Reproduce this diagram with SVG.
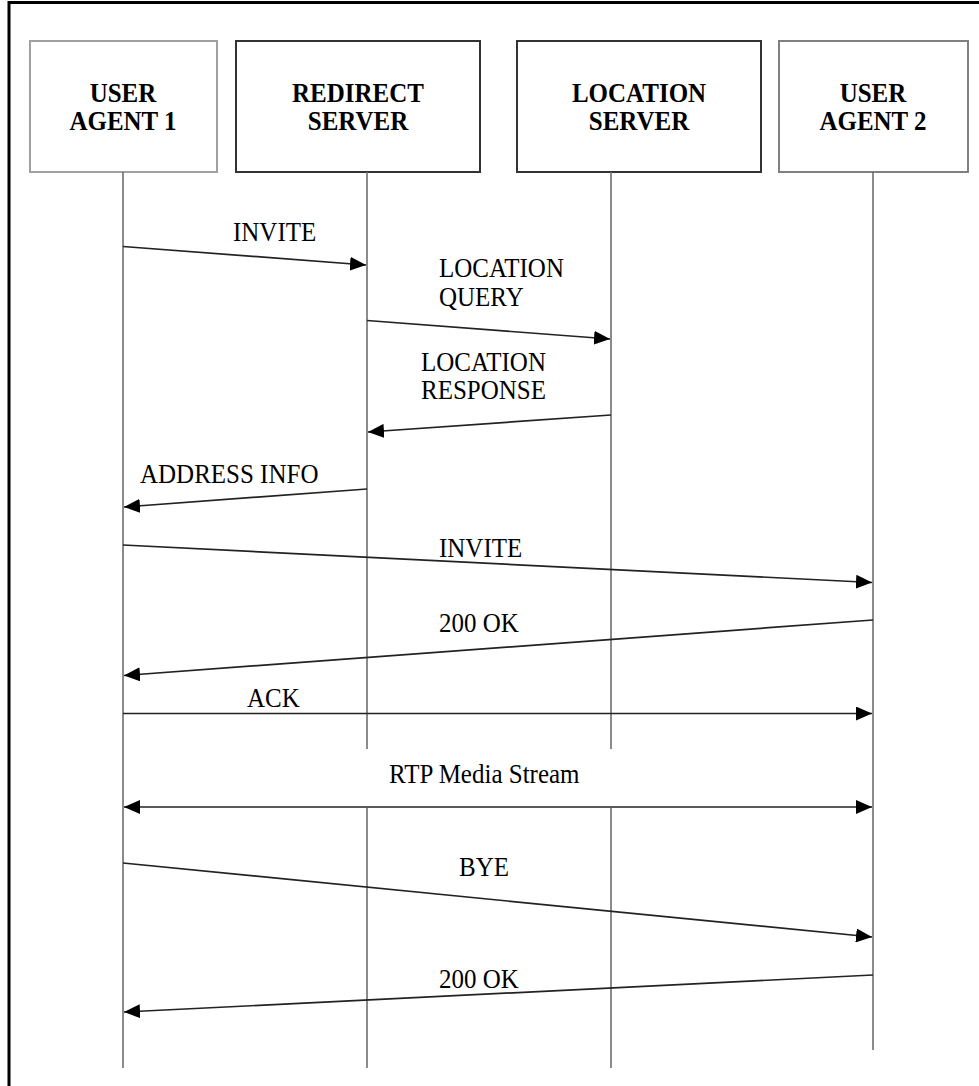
<svg xmlns="http://www.w3.org/2000/svg" width="979" height="1086" viewBox="0 0 979 1086">
<style>
.frame{fill:none;stroke:#000;stroke-width:3}
.box{fill:#fff;stroke-width:2}
.hdr{font-family:"Liberation Serif","Times New Roman",serif;font-weight:bold;font-size:25px;fill:#000;text-anchor:middle}
.lbl{font-family:"Liberation Serif","Times New Roman",serif;font-size:25px;fill:#000}
.life{stroke:#6e6e6e;stroke-width:1.6;fill:none}
.msg{stroke:#222;stroke-width:1.7;fill:none;marker-end:url(#arr)}
</style>
<defs>
<marker id="arr" markerUnits="userSpaceOnUse" markerWidth="16" markerHeight="14" refX="16" refY="7" orient="auto-start-reverse">
<path d="M0,0 L16,7 L0,14 Z" fill="#000"/>
</marker>
</defs>
<rect width="979" height="1086" fill="#fff"/>
<rect class="frame" x="9" y="2.5" width="1000" height="1100"/>

<g id="node-ua1">
<rect class="box" x="30" y="41" width="187" height="131" stroke="#a0a0a0"/>
<text class="hdr" transform="translate(123,102) scale(1,1.12)"><tspan x="0" y="0">USER</tspan><tspan x="0" y="25">AGENT 1</tspan></text>
</g>
<g id="node-redirect">
<rect class="box" x="236" y="41" width="244" height="131" stroke="#333"/>
<text class="hdr" transform="translate(358,102) scale(1,1.12)"><tspan x="0" y="0">REDIRECT</tspan><tspan x="0" y="25">SERVER</tspan></text>
</g>
<g id="node-location">
<rect class="box" x="517" y="41" width="244" height="131" stroke="#333"/>
<text class="hdr" transform="translate(639,102) scale(1,1.12)"><tspan x="0" y="0">LOCATION</tspan><tspan x="0" y="25">SERVER</tspan></text>
</g>
<g id="node-ua2">
<rect class="box" x="779" y="41" width="189" height="131" stroke="#808080"/>
<text class="hdr" transform="translate(873,102) scale(1,1.12)"><tspan x="0" y="0">USER</tspan><tspan x="0" y="25">AGENT 2</tspan></text>
</g>

<g id="lifelines">
<line class="life" x1="123" y1="172" x2="123" y2="1068"/>
<line class="life" x1="367" y1="172" x2="367" y2="749"/>
<line class="life" x1="367" y1="808" x2="367" y2="1068"/>
<line class="life" x1="611" y1="172" x2="611" y2="749"/>
<line class="life" x1="611" y1="808" x2="611" y2="1068"/>
<line class="life" x1="873" y1="172" x2="873" y2="1050"/>
</g>

<g id="connectors">
<line class="msg" x1="123" y1="246.5" x2="366" y2="265"/>
<line class="msg" x1="367" y1="320.5" x2="610" y2="339"/>
<line class="msg" x1="611" y1="415" x2="368" y2="432"/>
<line class="msg" x1="367" y1="489" x2="124" y2="507"/>
<line class="msg" x1="123" y1="545" x2="872" y2="582.5"/>
<line class="msg" x1="873" y1="620" x2="124" y2="675.5"/>
<line class="msg" x1="123" y1="713.5" x2="872" y2="713.5"/>
<line class="msg" x1="124" y1="807" x2="872" y2="807" style="marker-start:url(#arr)"/>
<line class="msg" x1="123" y1="863" x2="872" y2="937"/>
<line class="msg" x1="873" y1="975" x2="124" y2="1012"/>
</g>

<g id="labels">
<text class="lbl" transform="translate(233,241) scale(1,1.12)">INVITE</text>
<text class="lbl" transform="translate(439,277) scale(1,1.12)"><tspan x="0" y="0">LOCATION</tspan><tspan x="0" y="25.9">QUERY</tspan></text>
<text class="lbl" transform="translate(421,371) scale(1,1.12)"><tspan x="0" y="0">LOCATION</tspan><tspan x="0" y="25">RESPONSE</tspan></text>
<text class="lbl" transform="translate(140,483) scale(1,1.12)">ADDRESS INFO</text>
<text class="lbl" transform="translate(439,557) scale(1,1.12)">INVITE</text>
<text class="lbl" transform="translate(439,632) scale(1,1.12)">200 OK</text>
<text class="lbl" transform="translate(247,707) scale(1,1.12)">ACK</text>
<text class="lbl" transform="translate(389,783) scale(1,1.12)">RTP Media Stream</text>
<text class="lbl" transform="translate(459,876) scale(1,1.12)">BYE</text>
<text class="lbl" transform="translate(439,988) scale(1,1.12)">200 OK</text>
</g>
</svg>
